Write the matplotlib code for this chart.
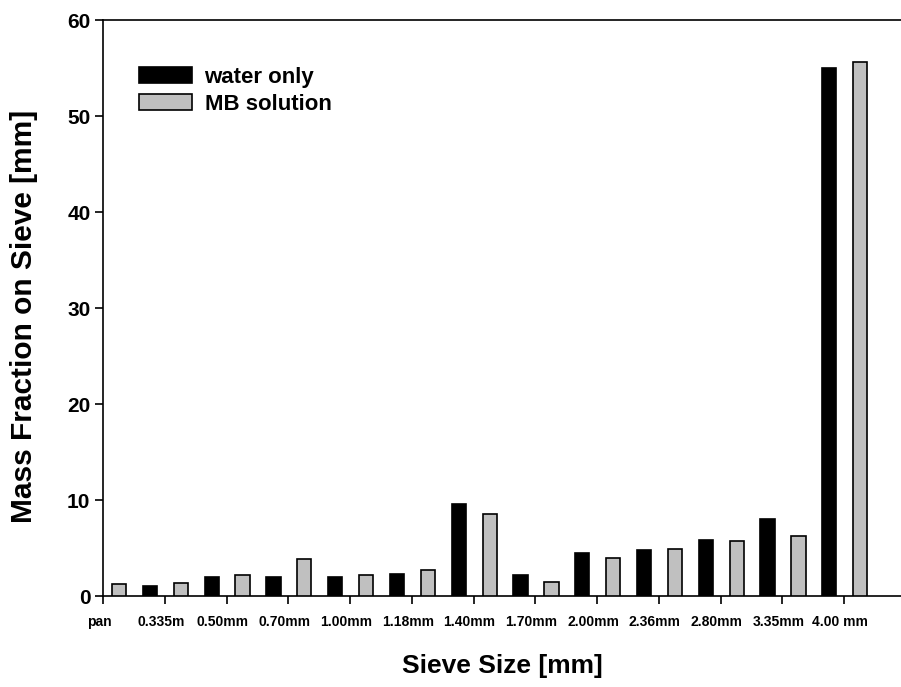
import matplotlib
matplotlib.use("Agg")
import matplotlib.pyplot as plt
import matplotlib.transforms as mtransforms
import numpy as np

plt.rcParams['font.family'] = ['Liberation Sans', 'DejaVu Sans']
plt.rcParams['font.weight'] = 'bold'

sieve_labels = ['pan', '0.335m', '0.50mm', '0.70mm', '1.00mm', '1.18mm', '1.40mm',
                '1.70mm', '2.00mm', '2.36mm', '2.80mm', '3.35mm', '4.00 mm']
# water only has no pan value; its bars sit one half-step left of the MB bars
water_only = [1.0, 2.0, 1.95, 2.0, 2.3, 9.6, 2.15, 4.5, 4.75, 5.8, 8.0, 55.0]
mb_solution = [1.25, 1.4, 2.2, 3.9, 2.2, 2.7, 8.5, 1.5, 4.0, 4.9, 5.75, 6.2, 55.6]

fig = plt.figure(figsize=(9.01, 6.87), dpi=100)
ax = fig.add_axes([103 / 901, 91 / 687, 1 - 103 / 901, 576 / 687])

w = 0.23
x_mb = np.arange(len(mb_solution)) + 0.26
x_w = np.arange(len(water_only)) + 0.76
ax.bar(x_w, water_only, width=w, color='black', edgecolor='black', linewidth=1.2,
       label='water only', zorder=3)
ax.bar(x_mb, mb_solution, width=w, color='#c0c0c0', edgecolor='black', linewidth=1.2,
       label='MB solution', zorder=3)

ax.set_xlim(0, 12.92)
ax.set_ylim(0, 60)
ax.set_xticks(np.arange(len(sieve_labels)))
ax.set_xticklabels(sieve_labels, fontsize=10, fontweight='bold')
ax.set_yticks(range(0, 61, 10))
ax.tick_params(axis='y', labelsize=15, direction='out', length=6, width=1.2, pad=3)
ax.tick_params(axis='x', direction='out', length=6, width=1.2, pad=8)
for lab in ax.get_yticklabels():
    lab.set_fontweight('bold')
# tick labels in the original sit a few pixels left of their ticks
shift = mtransforms.ScaledTranslation(-4 / 100, 0, fig.dpi_scale_trans)
for lab in ax.get_xticklabels():
    lab.set_transform(lab.get_transform() + shift)

ax.spines['right'].set_visible(False)
for s in ['left', 'bottom', 'top']:
    ax.spines[s].set_linewidth(1.2)

ax.set_xlabel('Sieve Size [mm]', fontsize=19, fontweight='bold', labelpad=18)
ax.set_ylabel('Mass Fraction on Sieve [mm]', fontsize=21.5, fontweight='bold')
ax.yaxis.set_label_coords(-0.082, 0.485)

ax.legend(loc='upper left', bbox_to_anchor=(0.02, 0.953), frameon=False,
          handlelength=2.4, handleheight=0.75, labelspacing=0.27, handletextpad=0.55,
          prop={'weight': 'bold', 'size': 16})

fig.savefig('out.png', dpi=100)
